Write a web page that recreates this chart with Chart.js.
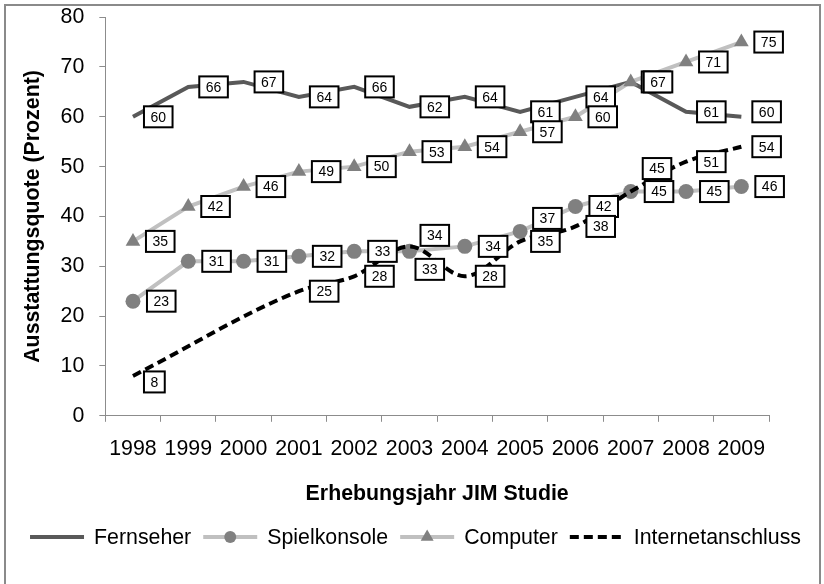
<!DOCTYPE html>
<html><head><meta charset="utf-8">
<script src="https://cdn.jsdelivr.net/npm/chart.js@4/dist/chart.umd.min.js"></script>
<style>html,body{margin:0;padding:0;background:#fff}#wrap{width:824px;height:584px;position:relative}</style>
</head><body><div id="wrap"><canvas id="c" width="824" height="584"></canvas></div>
<script>
// ---- data ----
const years = ['1998','1999','2000','2001','2002','2003','2004','2005','2006','2007','2008','2009'];
const fernseher    = [60,66,67,64,66,62,64,61,64,67,61,60];
const spielkonsole = [23,31,31,32,33,33,34,37,42,45,45,46];
const computer     = [35,42,46,49,50,53,54,57,60,67,71,75];
const internet     = [8,null,null,25,28,34,28,35,38,45,51,54];
const seriesNames  = ['Fernseher','Spielkonsole','Computer','Internetanschluss'];
const yMin = 0, yMax = 80, yStep = 10;
const xTitle = 'Erhebungsjahr JIM Studie';
const yTitle = 'Ausstattungsquote (Prozent)';

const FONT = "'Liberation Sans', Arial, sans-serif";
const AXIS = '#8c8c8c';

const framePlugin = {
  id: 'frame',
  beforeDraw(chart) {
    const ctx = chart.ctx;
    ctx.save();
    ctx.fillStyle = '#fff';
    ctx.fillRect(0, 0, chart.width, chart.height);
    ctx.strokeStyle = '#8a8a8a';
    ctx.lineWidth = 2;
    ctx.strokeRect(5, 5, 815, 620);
    ctx.restore();
  }
};

const valueLabelPlugin = {
  id: 'valueLabels',
  afterDatasetsDraw(chart, args, opts) {
    const ctx = chart.ctx;
    ctx.save();
    ctx.font = opts.fontSize + 'px ' + FONT;
    ctx.textAlign = 'center';
    ctx.textBaseline = 'middle';
    chart.data.datasets.forEach((ds, di) => {
      const meta = chart.getDatasetMeta(di);
      meta.data.forEach((pt, i) => {
        const v = ds.data[i];
        if (v === null || v === undefined) return;
        const adj = (opts.adjust.find(a => a.ds === di && a.i === i)) || {dx: 0, dy: 0};
        const txt = String(v);
        const w = ctx.measureText(txt).width + 13;
        const h = 21;
        const left = pt.x + opts.gap[di] + adj.dx;
        const cy = pt.y + adj.dy;
        ctx.fillStyle = '#fff';
        ctx.fillRect(left, cy - h / 2, w, h);
        ctx.strokeStyle = '#000';
        ctx.lineWidth = 2;
        ctx.strokeRect(left, cy - h / 2, w, h);
        ctx.fillStyle = '#000';
        ctx.fillText(txt, left + w / 2, cy + 1);
      });
    });
    ctx.restore();
  }
};

const legendPlugin = {
  id: 'customLegend',
  afterDraw(chart, args, opts) {
    const ctx = chart.ctx;
    ctx.save();
    ctx.font = opts.fontSize + 'px ' + FONT;
    const lineW = 54, gap = 10, itemGap = 12;
    const dsets = chart.data.datasets.slice().sort((a, b) => a.legendIndex - b.legendIndex);
    const widths = dsets.map(ds => lineW + gap + ctx.measureText(ds.label).width);
    const total = widths.reduce((s, w) => s + w, 0) + itemGap * (dsets.length - 1);
    let x = opts.centerX - total / 2;
    const y = opts.y;
    dsets.forEach((ds, k) => {
      ctx.save();
      ctx.strokeStyle = ds.borderColor;
      ctx.lineWidth = ds.borderWidth;
      ctx.setLineDash(ds.borderDash || []);
      ctx.beginPath();
      ctx.moveTo(x, y); ctx.lineTo(x + lineW, y);
      ctx.stroke();
      ctx.restore();
      if (ds.pointRadius > 0) {
        ctx.fillStyle = ds.pointBackgroundColor;
        ctx.beginPath();
        const cx = x + lineW / 2;
        if (ds.pointStyle === 'triangle') {
          const r = 7.5;
          for (let j = 0; j < 3; j++) {
            const a = j * 2 * Math.PI / 3;
            const px = cx + Math.sin(a) * r, py = y - Math.cos(a) * r;
            if (j === 0) ctx.moveTo(px, py); else ctx.lineTo(px, py);
          }
          ctx.closePath();
        } else {
          ctx.arc(cx, y, 6, 0, Math.PI * 2);
        }
        ctx.fill();
      }
      ctx.fillStyle = '#000';
      ctx.textAlign = 'left';
      ctx.textBaseline = 'middle';
      ctx.fillText(ds.label, x + lineW + gap, y + 1);
      x += widths[k] + itemGap;
    });
    ctx.restore();
  }
};

new Chart(document.getElementById('c'), {
  type: 'line',
  data: {
    labels: years,
    datasets: [
      { label: seriesNames[0], data: fernseher, legendIndex: 0, order: 4,
        borderColor: '#595959', borderWidth: 4, pointRadius: 0, tension: 0 },
      { label: seriesNames[1], data: spielkonsole, legendIndex: 1, order: 3,
        borderColor: '#c0c0c0', borderWidth: 4, pointRadius: 7.5, pointStyle: 'circle',
        pointBackgroundColor: '#808080', pointBorderWidth: 0, tension: 0 },
      { label: seriesNames[2], data: computer, legendIndex: 2, order: 2,
        borderColor: '#c0c0c0', borderWidth: 4, pointRadius: 8.5, pointStyle: 'triangle',
        pointBackgroundColor: '#808080', pointBorderWidth: 0, tension: 0 },
      { label: seriesNames[3], data: internet, legendIndex: 3, order: 1,
        borderColor: '#000000', borderWidth: 4, borderDash: [9, 5], pointRadius: 0,
        spanGaps: true, cubicInterpolationMode: 'monotone' }
    ]
  },
  options: {
    responsive: false,
    devicePixelRatio: 1,
    animation: false,
    layout: { padding: { left: 19, right: 55, top: 7, bottom: 77 } },
    plugins: {
      legend: { display: false },
      tooltip: { enabled: false },
      valueLabels: {
        fontSize: 14,
        gap: [11, 14, 13, 11],
        adjust: [
          { ds: 0, i: 11, dx: 0, dy: -5 },
          { ds: 1, i: 5, dx: -8, dy: 18 },
          { ds: 1, i: 7, dx: -1, dy: -13 },
          { ds: 3, i: 0, dx: 0, dy: 6 },
          { ds: 3, i: 5, dx: 0, dy: -11 },
          { ds: 3, i: 9, dx: 1, dy: -23 }
        ]
      },
      customLegend: { fontSize: 21.33, centerX: 415.5, y: 537 }
    },
    scales: {
      x: {
        type: 'category',
        offset: true,
        grid: { display: true, drawOnChartArea: false, drawTicks: true, tickLength: 6, offset: true, color: AXIS },
        border: { display: true, color: AXIS, width: 1 },
        ticks: { autoSkip: false, maxRotation: 0, minRotation: 0, padding: 15, color: '#000',
                 font: { family: FONT, size: 21.33 } },
        title: { display: true, text: xTitle, color: '#000',
                 font: { family: FONT, size: 21.33, weight: 'bold' }, padding: { top: 4, bottom: 0 } }
      },
      y: {
        min: yMin, max: yMax,
        grid: { display: true, drawOnChartArea: false, drawTicks: true, tickLength: 6, color: AXIS },
        border: { display: true, color: AXIS, width: 1 },
        ticks: { stepSize: yStep, padding: 15, color: '#000', font: { family: FONT, size: 21.33, lineHeight: 0.2 } },
        title: { display: true, text: yTitle, color: '#000',
                 font: { family: FONT, size: 21.33, weight: 'bold' }, padding: { top: 1, bottom: 0 } }
      }
    }
  },
  plugins: [framePlugin, valueLabelPlugin, legendPlugin]
});
</script></body></html>
